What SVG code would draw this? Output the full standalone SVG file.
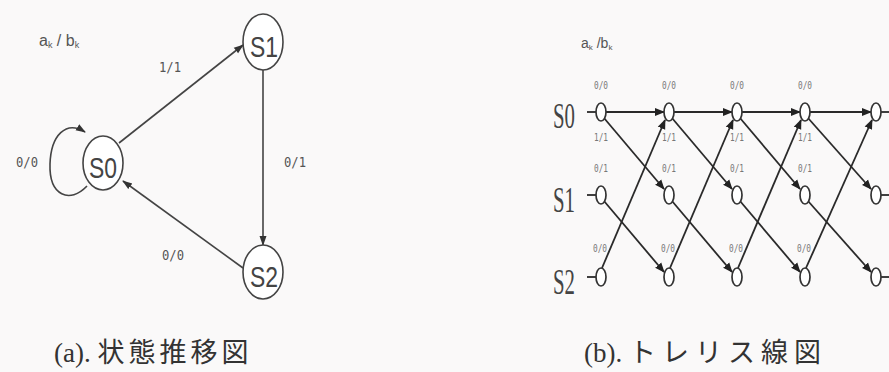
<svg xmlns="http://www.w3.org/2000/svg" width="889" height="372" viewBox="0 0 889 372">
<defs>
<marker id="ah" viewBox="0 0 10 10" refX="9" refY="5" markerWidth="10" markerHeight="10" markerUnits="userSpaceOnUse" orient="auto"><path d="M0,1.5 L10,5 L0,8.5 Z" fill="#333"/></marker>
<marker id="at" viewBox="0 0 10 10" refX="9" refY="5" markerWidth="10" markerHeight="10" markerUnits="userSpaceOnUse" orient="auto"><path d="M0,1 L10,5 L0,9 Z" fill="#222"/></marker>
<style>
.st{fill:#fff;stroke:#444;stroke-width:1.6}
.sl{font-family:"Liberation Sans",sans-serif;font-size:30px;fill:#444;text-anchor:middle}
.e{fill:none;stroke:#444;stroke-width:1.6}
.el{font-family:"DejaVu Sans Mono","Liberation Mono",monospace;font-size:14px;fill:#555;text-anchor:middle}
.tn{fill:#fff;stroke:#333;stroke-width:1.7}
.te{fill:none;stroke:#2a2a2a;stroke-width:1.8}
.tl{font-family:"DejaVu Sans Mono","Liberation Mono",monospace;font-size:10px;fill:#777;text-anchor:middle}
.rl{font-family:"Liberation Serif",serif;font-size:36px;fill:#444;text-anchor:middle}
.cap{font-family:"Liberation Serif","Noto Sans CJK JP",serif;font-size:27px;fill:#333}
.hd{font-family:"Liberation Sans",sans-serif;fill:#555}
</style>
</defs>
<rect width="889" height="372" fill="#faf9f9"/>

<text class="hd" x="39" y="46" font-size="16">a<tspan font-size="9" dy="2">k</tspan><tspan dy="-2"> / b</tspan><tspan font-size="9" dy="2">k</tspan></text>

<g id="connectors-a">
<path class="e" d="M87,186 C70,204 49,196 50,164 C51,135 66,120 85,132" marker-end="url(#ah)"/>
<line class="e" x1="119" y1="143" x2="243" y2="45" marker-end="url(#ah)"/>
<line class="e" x1="263" y1="70" x2="263" y2="245" marker-end="url(#ah)"/>
<line class="e" x1="243" y1="268" x2="123" y2="181" marker-end="url(#ah)"/>
<text class="el" x="27" y="167" textLength="22" lengthAdjust="spacingAndGlyphs">0/0</text>
<text class="el" x="170" y="72" textLength="22" lengthAdjust="spacingAndGlyphs">1/1</text>
<text class="el" x="295" y="167" textLength="22" lengthAdjust="spacingAndGlyphs">0/1</text>
<text class="el" x="173" y="260" textLength="22" lengthAdjust="spacingAndGlyphs">0/0</text>
</g>
<g id="S0"><ellipse class="st" cx="103" cy="163" rx="20" ry="27"/><text class="sl" x="103" y="178" textLength="28" lengthAdjust="spacingAndGlyphs">S0</text></g>
<g id="S1"><ellipse class="st" cx="263" cy="42" rx="20" ry="28"/><text class="sl" x="264" y="57" textLength="28" lengthAdjust="spacingAndGlyphs">S1</text></g>
<g id="S2"><ellipse class="st" cx="263" cy="272" rx="20" ry="27"/><text class="sl" x="264" y="287" textLength="28" lengthAdjust="spacingAndGlyphs">S2</text></g>

<text class="cap" x="54" y="362">(a). <tspan letter-spacing="4">状態推移図</tspan></text>

<text class="hd" x="581" y="48" font-size="14">a<tspan font-size="8" dy="2">k</tspan><tspan dy="-2"> /b</tspan><tspan font-size="8" dy="2">k</tspan></text>

<text class="rl" x="564" y="128" textLength="22" lengthAdjust="spacingAndGlyphs">S0</text>
<text class="rl" x="564" y="212" textLength="22" lengthAdjust="spacingAndGlyphs">S1</text>
<text class="rl" x="564" y="294" textLength="22" lengthAdjust="spacingAndGlyphs">S2</text>

<g id="trellis-connectors">
<line class="te" x1="587" y1="112" x2="596" y2="112"/>
<line class="te" x1="587" y1="195" x2="596" y2="195"/>
<line class="te" x1="587" y1="277" x2="596" y2="277"/>
<line class="te" x1="880" y1="112" x2="889" y2="112"/>
<line class="te" x1="880" y1="195" x2="889" y2="195"/>
<line class="te" x1="880" y1="277" x2="889" y2="277"/>

<line class="te" x1="606" y1="112" x2="664" y2="112" marker-end="url(#at)"/>
<line class="te" x1="604" y1="118" x2="664" y2="189" marker-end="url(#at)"/>
<line class="te" x1="604" y1="201" x2="664" y2="272" marker-end="url(#at)"/>
<line class="te" x1="602" y1="268" x2="665" y2="120" marker-end="url(#at)"/>

<line class="te" x1="674" y1="112" x2="732" y2="112" marker-end="url(#at)"/>
<line class="te" x1="672" y1="118" x2="732" y2="189" marker-end="url(#at)"/>
<line class="te" x1="672" y1="201" x2="732" y2="272" marker-end="url(#at)"/>
<line class="te" x1="670" y1="268" x2="733" y2="120" marker-end="url(#at)"/>

<line class="te" x1="742" y1="112" x2="800" y2="112" marker-end="url(#at)"/>
<line class="te" x1="740" y1="118" x2="800" y2="189" marker-end="url(#at)"/>
<line class="te" x1="740" y1="201" x2="800" y2="272" marker-end="url(#at)"/>
<line class="te" x1="738" y1="268" x2="801" y2="120" marker-end="url(#at)"/>

<line class="te" x1="810" y1="112" x2="871" y2="112" marker-end="url(#at)"/>
<line class="te" x1="808" y1="118" x2="871" y2="189" marker-end="url(#at)"/>
<line class="te" x1="808" y1="201" x2="871" y2="272" marker-end="url(#at)"/>
<line class="te" x1="806" y1="268" x2="872" y2="120" marker-end="url(#at)"/>

<text class="tl" x="601" y="89" textLength="14" lengthAdjust="spacingAndGlyphs">0/0</text><text class="tl" x="601" y="141" textLength="14" lengthAdjust="spacingAndGlyphs">1/1</text><text class="tl" x="601" y="172" textLength="14" lengthAdjust="spacingAndGlyphs">0/1</text><text class="tl" x="600" y="252" textLength="14" lengthAdjust="spacingAndGlyphs">0/0</text>
<text class="tl" x="669" y="89" textLength="14" lengthAdjust="spacingAndGlyphs">0/0</text><text class="tl" x="669" y="141" textLength="14" lengthAdjust="spacingAndGlyphs">1/1</text><text class="tl" x="669" y="172" textLength="14" lengthAdjust="spacingAndGlyphs">0/1</text><text class="tl" x="668" y="252" textLength="14" lengthAdjust="spacingAndGlyphs">0/0</text>
<text class="tl" x="737" y="89" textLength="14" lengthAdjust="spacingAndGlyphs">0/0</text><text class="tl" x="737" y="141" textLength="14" lengthAdjust="spacingAndGlyphs">1/1</text><text class="tl" x="737" y="172" textLength="14" lengthAdjust="spacingAndGlyphs">0/1</text><text class="tl" x="736" y="252" textLength="14" lengthAdjust="spacingAndGlyphs">0/0</text>
<text class="tl" x="805" y="89" textLength="14" lengthAdjust="spacingAndGlyphs">0/0</text><text class="tl" x="805" y="141" textLength="14" lengthAdjust="spacingAndGlyphs">1/1</text><text class="tl" x="805" y="172" textLength="14" lengthAdjust="spacingAndGlyphs">0/1</text><text class="tl" x="804" y="252" textLength="14" lengthAdjust="spacingAndGlyphs">0/0</text>
</g>

<g id="t0"><ellipse class="tn" cx="601" cy="112" rx="5" ry="9"/><ellipse class="tn" cx="601" cy="195" rx="5" ry="9"/><ellipse class="tn" cx="601" cy="277" rx="5" ry="9"/></g>
<g id="t1"><ellipse class="tn" cx="669" cy="112" rx="5" ry="9"/><ellipse class="tn" cx="669" cy="195" rx="5" ry="9"/><ellipse class="tn" cx="669" cy="277" rx="5" ry="9"/></g>
<g id="t2"><ellipse class="tn" cx="737" cy="112" rx="5" ry="9"/><ellipse class="tn" cx="737" cy="195" rx="5" ry="9"/><ellipse class="tn" cx="737" cy="277" rx="5" ry="9"/></g>
<g id="t3"><ellipse class="tn" cx="805" cy="112" rx="5" ry="9"/><ellipse class="tn" cx="805" cy="195" rx="5" ry="9"/><ellipse class="tn" cx="805" cy="277" rx="5" ry="9"/></g>
<g id="t4"><ellipse class="tn" cx="876" cy="112" rx="5" ry="9"/><ellipse class="tn" cx="876" cy="195" rx="5" ry="9"/><ellipse class="tn" cx="876" cy="277" rx="5" ry="9"/></g>

<text class="cap" x="584" y="362">(b). <tspan letter-spacing="6">トレリス線図</tspan></text>
</svg>
